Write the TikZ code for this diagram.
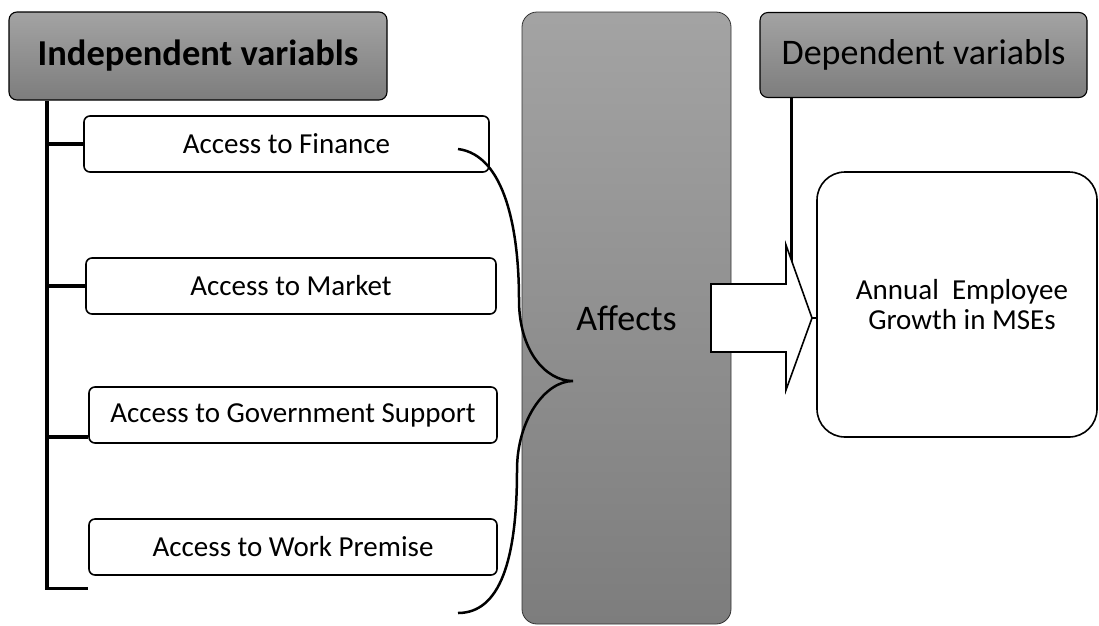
\documentclass[tikz,border=0pt]{standalone}
\usepackage{fontspec}
\setmainfont{Carlito}
\begin{document}
\begin{tikzpicture}[x=1pt,y=-1pt,
  headbox/.style={draw,line width=1.1pt,rounded corners=8pt,top color=black!36,bottom color=black!51},
  varbox/.style={draw,line width=1.6pt,rounded corners=6pt,fill=white,minimum height=56pt,font=\fontsize{29}{33}\selectfont},
  bar/.style={line width=3.5pt},
  conn/.style={line width=1.6pt}]
\useasboundingbox (0,0) rectangle (1099,625);
% grey blocks
\node[headbox,draw=black!80,line width=.8pt,rounded corners=15pt,minimum width=209pt,minimum height=612pt,
  font=\fontsize{36}{40}\selectfont] (aff) at (626.5,318) {Affects};
\node[headbox,minimum width=378pt,minimum height=88pt,font=\fontsize{36.5}{40}\selectfont\bfseries] (indep) at (198,56) {Independent variabls};
\node[headbox,minimum width=327pt,minimum height=85pt,font=\fontsize{36}{40}\selectfont] (dep) at (923.5,55) {Dependent variabls};
% the four variables
\foreach \n/\x/\y/\w/\t in {fin/286.5/144/405/Access to Finance,
    mkt/291/286/410/Access to Market,
    gov/293/415/408/Access to Government Support,
    wp/293/547/408/Access to Work Premise}
  \node[varbox,minimum width=\w pt] (\n) at (\x,\y) {\t};
\draw[bar] (indep.south west) ++(38.5,0) coordinate (t0) -- ++(0,488) coordinate (t1) -- ++(41,0);
\draw[bar] (t0 |- fin.west) -- (fin.west);
\draw[bar] (t0 |- mkt.west) -- (mkt.west);
\draw[bar] (t0 |- 0,437) -- (gov.west |- 0,437);
% result
\node[draw,line width=1.6pt,rounded corners=28pt,fill=white,minimum width=280pt,minimum height=265pt,
  align=center,font=\fontsize{29}{30}\selectfont] (out) at (957,304.5) {\hspace*{10pt}Annual\ \ Employee\\\hspace*{10pt}Growth in MSEs};
\draw[bar] (dep.south west) ++(32,0) -- ++(0,221);
\draw[conn,fill=white,line join=miter] (711,284) -- (786,284) -- (786,245) -- (812,318)
  -- (786,390) -- (786,352) -- (711,352) -- cycle;
\draw[conn] (812,318) -- (out.west |- 0,318);
% brace
\draw[line width=2.5pt] (458,149) .. controls (505,155) and (519,230) .. (519,300)
  .. controls (519,350) and (545,381) .. (573,381)
  .. controls (545,381) and (517,420) .. (517,470)
  .. controls (517,560) and (500,613) .. (458,613);
\end{tikzpicture}
\end{document}
